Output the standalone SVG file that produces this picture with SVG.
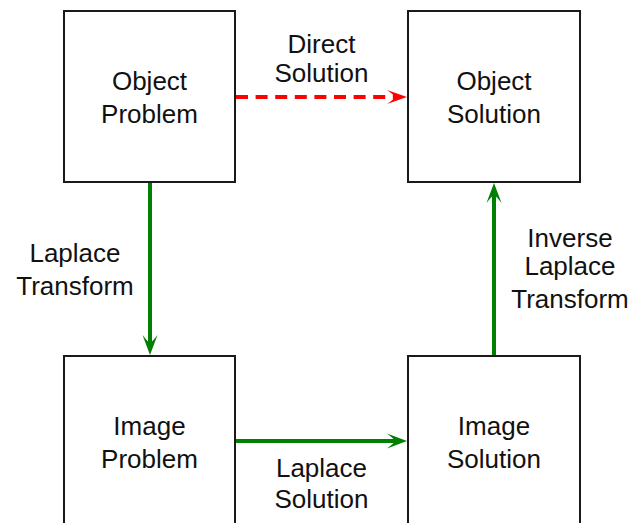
<svg xmlns="http://www.w3.org/2000/svg" width="631" height="523" viewBox="0 0 631 523">
<style>
.box{fill:#fff;stroke:#1a1a1a;stroke-width:2}
.t{font-family:"Liberation Sans",Arial,sans-serif;font-size:26px;fill:#111;text-anchor:middle}
.g{stroke:#008000;stroke-width:4;fill:none}
.r{stroke:#ff0000;stroke-width:4;fill:none;stroke-dasharray:12 7.6}
</style>
<defs>
<marker id="ag" markerUnits="userSpaceOnUse" viewBox="-22 -10 24 20" markerWidth="24" markerHeight="20" refX="-12" refY="0" orient="auto">
<path d="M0 0 L-20 -7.5 Q-13.5 -2.5 -12 0 Q-13.5 2.5 -20 7.5 Z" fill="#008000"/>
</marker>
<marker id="ar" markerUnits="userSpaceOnUse" viewBox="-22 -10 24 20" markerWidth="24" markerHeight="20" refX="-12" refY="0" orient="auto">
<path d="M0 0 L-20 -7 Q-13.5 -2.5 -12 0 Q-13.5 2.5 -20 7 Z" fill="#ff0000"/>
</marker>
</defs>
<g id="connectors">
<line class="r" x1="236" y1="97" x2="395" y2="97" marker-end="url(#ar)"/>
<line class="g" x1="150" y1="183" x2="150" y2="343" marker-end="url(#ag)"/>
<line class="g" x1="236" y1="441" x2="395" y2="441" marker-end="url(#ag)"/>
<line class="g" x1="494" y1="355" x2="494" y2="195" marker-end="url(#ag)"/>
<text class="t" x="321.5" y="53">Direct</text>
<text class="t" x="321.5" y="82">Solution</text>
<text class="t" x="75" y="262">Laplace</text>
<text class="t" x="75" y="295">Transform</text>
<text class="t" x="570" y="247">Inverse</text>
<text class="t" x="570" y="275">Laplace</text>
<text class="t" x="570" y="308">Transform</text>
<text class="t" x="321.5" y="477">Laplace</text>
<text class="t" x="321.5" y="508">Solution</text>
</g>
<g id="object-problem">
<rect class="box" x="64" y="11" width="171" height="171"/>
<text class="t" x="149.5" y="90">Object</text>
<text class="t" x="149.5" y="123">Problem</text>
</g>
<g id="object-solution">
<rect class="box" x="408" y="11" width="172" height="171"/>
<text class="t" x="494" y="90">Object</text>
<text class="t" x="494" y="123">Solution</text>
</g>
<g id="image-problem">
<rect class="box" x="64" y="356" width="171" height="171"/>
<text class="t" x="149.5" y="435">Image</text>
<text class="t" x="149.5" y="468">Problem</text>
</g>
<g id="image-solution">
<rect class="box" x="408" y="356" width="172" height="171"/>
<text class="t" x="494" y="435">Image</text>
<text class="t" x="494" y="468">Solution</text>
</g>
</svg>
